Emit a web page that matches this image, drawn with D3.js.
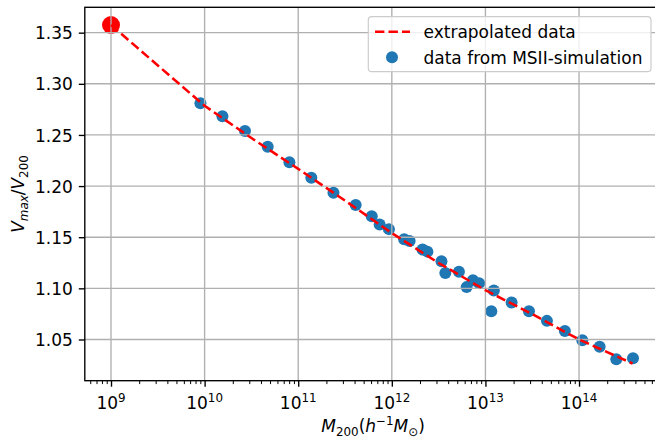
<!DOCTYPE html>
<html>
<head>
<meta charset="utf-8">
<script src="https://cdn.jsdelivr.net/npm/d3@7"></script>
<style>
  body { margin: 0; background: #fff; }
  svg text { font-family: "DejaVu Sans", sans-serif; fill: #000; }
</style>
</head>
<body>
<svg id="chart" width="655" height="438"></svg>
<script>
// Halo mass M200 [h^-1 Msun] and Vmax/V200 from the MSII simulation
const simMass = [9.02e9, 1.55e10, 2.70e10, 4.72e10, 8.05e10, 1.38e11, 2.38e11, 4.11e11,
  6.10e11, 7.41e11, 9.31e11, 1.355e12, 1.55e12, 2.13e12, 2.40e12, 3.39e12, 3.73e12,
  5.21e12, 6.30e12, 7.36e12, 8.57e12, 1.23e13, 1.156e13, 1.905e13, 2.92e13, 4.54e13,
  7.06e13, 1.084e14, 1.66e14, 2.50e14, 3.77e14];
const simRatio = [1.2809, 1.2682, 1.2538, 1.2385, 1.2232, 1.2081, 1.1934, 1.1814,
  1.1706, 1.1625, 1.1579, 1.1481, 1.1464, 1.1379, 1.1359, 1.1266, 1.1149,
  1.1163, 1.1012, 1.1080, 1.1051, 1.0979, 1.0777, 1.0862, 1.0777, 1.0682,
  1.0584, 1.0493, 1.0428, 1.0307, 1.0317];

// Extrapolated relation, from the low-mass anchor to the high-mass end
const fitMass = [1e9, 1e10, 3.162e10, 1e11, 3.162e11, 1e12, 3.162e12, 1e13, 3.162e13, 1e14, 3.73e14];
const fitRatio = [1.3575, 1.2785, 1.2470, 1.2168, 1.1858, 1.1540, 1.1248, 1.0982, 1.0748, 1.0500, 1.0265];

// Low-mass anchor point
const anchorMass = [1e9];
const anchorRatio = [1.3575];

const yTickValues = [1.05, 1.10, 1.15, 1.20, 1.25, 1.30, 1.35];
const xTickExponents = [9, 10, 11, 12, 13, 14];
const legendLabels = ["extrapolated data", "data from MSII-simulation"];

const FS = 17;
const W = 655, H = 438;
const plot = { left: 84.8, right: 661.4, top: 7.3, bottom: 380.7 };

const svg = d3.select("#chart");

const x = d3.scaleLog()
  .domain([Math.pow(10, 8.72), Math.pow(10, 14.88)])
  .range([plot.left, plot.right]);
const y = d3.scaleLinear()
  .domain([1.0097, 1.3748])
  .range([plot.bottom, plot.top]);

const clip = svg.append("defs").append("clipPath").attr("id", "plotclip")
  .append("rect")
  .attr("x", plot.left).attr("y", plot.top)
  .attr("width", plot.right - plot.left).attr("height", plot.bottom - plot.top);

const area = svg.append("g").attr("clip-path", "url(#plotclip)");

// Scatter markers (drawn below the grid)
area.append("g").selectAll("circle.sim")
  .data(d3.zip(simMass, simRatio))
  .join("circle")
  .attr("class", "sim")
  .attr("cx", d => x(d[0]))
  .attr("cy", d => y(d[1]))
  .attr("r", 6)
  .attr("fill", "#1f77b4");

area.append("g").selectAll("circle.anchor")
  .data(d3.zip(anchorMass, anchorRatio))
  .join("circle")
  .attr("class", "anchor")
  .attr("cx", d => x(d[0]))
  .attr("cy", d => y(d[1]))
  .attr("r", 9)
  .attr("fill", "#ff0000");

// Grid lines
const xMajor = xTickExponents.map(e => Math.pow(10, e));
const grid = area.append("g").attr("stroke", "#b0b0b0").attr("stroke-width", 1.36);
grid.selectAll("line.gx").data(xMajor).join("line")
  .attr("x1", d => x(d)).attr("x2", d => x(d))
  .attr("y1", plot.top).attr("y2", plot.bottom);
grid.selectAll("line.gy").data(yTickValues).join("line")
  .attr("y1", d => y(d)).attr("y2", d => y(d))
  .attr("x1", plot.left).attr("x2", plot.right);

// Extrapolated dashed line
const line = d3.line().x(d => x(d[0])).y(d => y(d[1]));
area.append("path")
  .datum(d3.zip(fitMass, fitRatio))
  .attr("d", line)
  .attr("fill", "none")
  .attr("stroke", "#ff0000")
  .attr("stroke-width", 2.55)
  .attr("stroke-dasharray", "9.4,4.1");

// Axes
const xAxis = d3.axisBottom(x)
  .tickValues(xMajor)
  .tickSize(6)
  .tickPadding(6)
  .tickFormat("");
const gx = svg.append("g").attr("transform", `translate(0,${plot.bottom})`).call(xAxis);
gx.select(".domain").remove();
gx.selectAll(".tick line").attr("stroke", "#000").attr("stroke-width", 1.36);

// Minor ticks on the log axis
const xMinor = [];
for (let e = 8; e <= 14; e++) {
  for (let m = 2; m <= 9; m++) {
    const v = m * Math.pow(10, e);
    if (v >= x.domain()[0] && v <= x.domain()[1]) xMinor.push(v);
  }
}
const xAxisMinor = d3.axisBottom(x).tickValues(xMinor).tickSize(3.4).tickFormat("");
const gxm = svg.append("g").attr("transform", `translate(0,${plot.bottom})`).call(xAxisMinor);
gxm.select(".domain").remove();
gxm.selectAll(".tick line").attr("stroke", "#000").attr("stroke-width", 1.0);

// x tick labels as 10^n
const xLabels = svg.append("g");
xTickExponents.forEach(e => {
  const t = xLabels.append("text")
    .attr("x", x(Math.pow(10, e)))
    .attr("y", 409)
    .attr("text-anchor", "middle")
    .attr("font-size", FS);
  t.append("tspan").text("10");
  t.append("tspan").attr("dy", -7.5).attr("font-size", FS * 0.7).text(String(e));
});

const yAxis = d3.axisLeft(y)
  .tickValues(yTickValues)
  .tickSize(6)
  .tickPadding(6)
  .tickFormat(d3.format(".2f"));
const gy = svg.append("g").attr("transform", `translate(${plot.left},0)`).call(yAxis);
gy.select(".domain").remove();
gy.selectAll(".tick line").attr("stroke", "#000").attr("stroke-width", 1.36);
gy.selectAll(".tick text")
  .attr("font-size", FS)
  .attr("font-family", "DejaVu Sans")
  .attr("fill", "#000")
  .attr("dy", "0.36em");

// Spines
svg.append("rect")
  .attr("x", plot.left).attr("y", plot.top)
  .attr("width", plot.right - plot.left).attr("height", plot.bottom - plot.top)
  .attr("fill", "none").attr("stroke", "#000").attr("stroke-width", 1.36);

// Axis titles
const xt = svg.append("text")
  .attr("x", (plot.left + plot.right) / 2)
  .attr("y", 432)
  .attr("text-anchor", "middle")
  .attr("font-size", FS);
xt.append("tspan").attr("font-style", "italic").text("M");
xt.append("tspan").attr("font-size", FS * 0.7).attr("dy", 3.5).text("200");
xt.append("tspan").attr("dy", -3.5).text("(");
xt.append("tspan").attr("font-style", "italic").text("h");
xt.append("tspan").attr("font-size", FS * 0.7).attr("dy", -7).text("\u22121");
xt.append("tspan").attr("dy", 7).attr("font-style", "italic").text("M");
xt.append("tspan").attr("font-size", FS * 0.7).attr("dy", 3.5).text("\u2299");
xt.append("tspan").attr("dy", -3.5).text(")");

const yt = svg.append("text")
  .attr("transform", `translate(24,${(plot.top + plot.bottom) / 2}) rotate(-90)`)
  .attr("text-anchor", "middle")
  .attr("font-size", FS);
yt.append("tspan").attr("font-style", "italic").text("V");
yt.append("tspan").attr("font-size", FS * 0.7).attr("dy", 3.5).attr("font-style", "italic").text("max");
yt.append("tspan").attr("dy", -3.5).text("/");
yt.append("tspan").attr("font-style", "italic").text("V");
yt.append("tspan").attr("font-size", FS * 0.7).attr("dy", 3.5).text("200");

// Legend
const lg = svg.append("g");
lg.append("rect")
  .attr("x", 368.3).attr("y", 16.7)
  .attr("width", 282.7).attr("height", 55)
  .attr("rx", 3.5)
  .attr("fill", "#fff").attr("fill-opacity", 0.8)
  .attr("stroke", "#cccccc").attr("stroke-width", 1.2);
const rowY = [31.7, 57.3];
lg.append("line")
  .attr("x1", 375).attr("x2", 410)
  .attr("y1", rowY[0]).attr("y2", rowY[0])
  .attr("stroke", "#ff0000").attr("stroke-width", 2.55)
  .attr("stroke-dasharray", "9.4,4.1");
lg.append("circle")
  .attr("cx", 392).attr("cy", rowY[1]).attr("r", 6).attr("fill", "#1f77b4");
legendLabels.forEach((s, i) => {
  lg.append("text")
    .attr("x", 423.5).attr("y", rowY[i] + 6.2)
    .attr("font-size", FS)
    .text(s);
});
</script>
</body>
</html>
